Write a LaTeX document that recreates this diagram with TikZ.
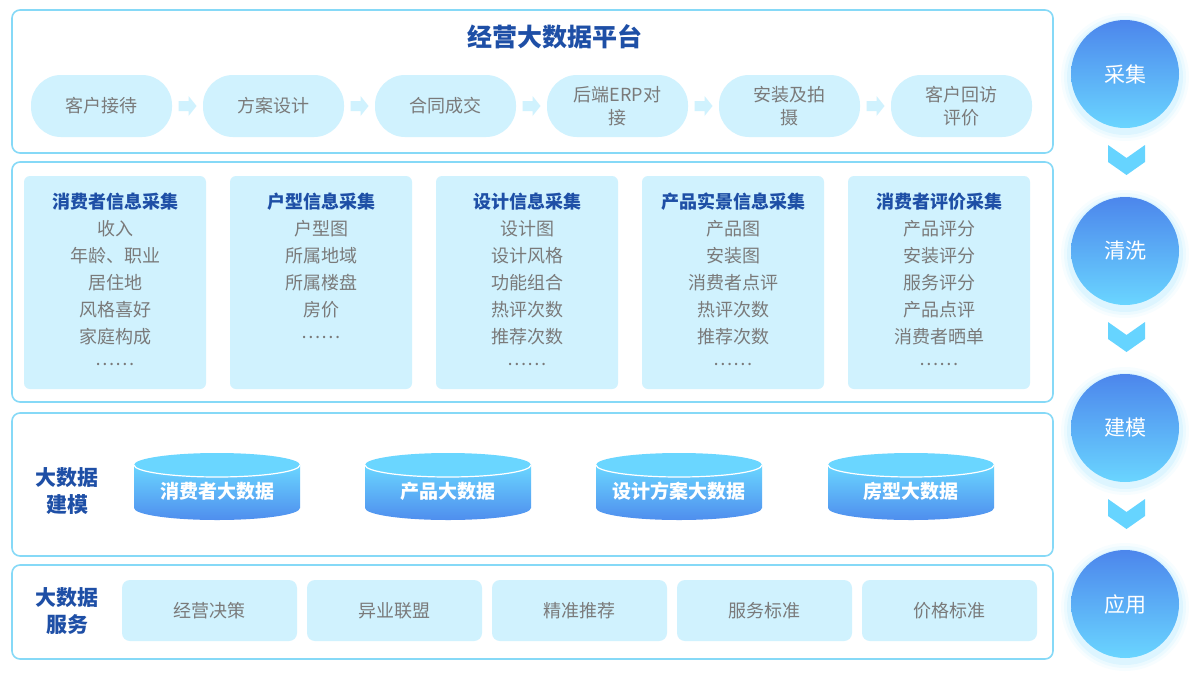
\documentclass[tikz,border=0pt]{standalone}
\usepackage{fontspec}
\setmainfont{Noto Sans CJK SC}
\definecolor{pborder}{HTML}{86D9F7}
\definecolor{pfill}{HTML}{D0F2FE}
\definecolor{tblue}{HTML}{1E4FA6}
\definecolor{tgray}{HTML}{7A7A7A}
\definecolor{ctop}{HTML}{4C86EC}
\definecolor{cbot}{HTML}{6AD5FF}
\definecolor{cyl}{HTML}{6AD6FF}
\definecolor{chev}{HTML}{66D4FF}
\tikzset{
  panel/.style={draw=pborder, line width=1.6pt, rounded corners=8pt, fill=white},
  pill/.style={fill=pfill, rounded corners=30pt, minimum width=141pt, minimum height=62pt, inner sep=0pt, align=center, text=tgray, font=\fontsize{18}{23}\selectfont},
  infobox/.style={fill=pfill, rounded corners=6pt, minimum width=182pt, minimum height=213pt, inner sep=0pt},
  svcbox/.style={fill=pfill, rounded corners=8pt, minimum width=175pt, minimum height=61pt, inner sep=0pt, text=tgray, font=\fontsize{18}{22}\selectfont},
  ititle/.style={text=tblue, font=\fontsize{18}{22}\selectfont\bfseries, inner sep=0pt},
  item/.style={text=tgray, font=\fontsize{18}{22}\selectfont, inner sep=0pt},
  sidelabel/.style={text=tblue, font=\fontsize{21}{27}\selectfont\bfseries, align=center, inner sep=0pt},
  stage/.style={circle, minimum size=108pt, inner sep=0pt, top color=ctop, bottom color=cbot, text=white, font=\fontsize{21}{24}\selectfont},
  flowarrow/.style={fill=pfill},
  chevron/.style={fill=chev},
  cyltext/.style={text=white, font=\fontsize{19}{22}\selectfont\bfseries, inner sep=0pt}
}
\begin{document}
\begin{tikzpicture}[x=1pt,y=-1pt]
\useasboundingbox (0,0) rectangle (1201,675);
% panels
\draw[panel] (12,10) rectangle (1053,153);
\draw[panel] (12,162) rectangle (1053,402);
\draw[panel] (12,413) rectangle (1053,556);
\draw[panel] (12,565) rectangle (1053,659);
% title
\node[text=tblue, font=\fontsize{25}{28}\selectfont\bfseries, inner sep=0pt] (title) at (555,37) {经营大数据平台};
% pills
\node[pill] (p1) at (101.5,106) {客户接待};
\node[pill] (p2) at (273.5,106) {方案设计};
\node[pill] (p3) at (445.5,106) {合同成交};
\node[pill] (p4) at (617.5,106) {后端ERP对\\接};
\node[pill] (p5) at (789.5,106) {安装及拍\\摄};
\node[pill] (p6) at (961.5,106) {客户回访\\评价};
\foreach \a/\b in {p1/p2,p2/p3,p3/p4,p4/p5,p5/p6}{
  \path (\a.east) -- (\b.west) coordinate[midway] (m\a);
  \fill[flowarrow] ([shift={(-9,-5)}]m\a) -- ([shift={(1,-5)}]m\a) -- ([shift={(1,-10)}]m\a) -- ([shift={(9,0)}]m\a) -- ([shift={(1,10)}]m\a) -- ([shift={(1,5)}]m\a) -- ([shift={(-9,5)}]m\a) -- cycle;
}
% info boxes
\foreach \cx/\n/\ttl/\lst in {
  115/a/消费者信息采集/{收入,年龄、职业,居住地,风格喜好,家庭构成,……},
  321/b/户型信息采集/{户型图,所属地域,所属楼盘,房价,……},
  527/c/设计信息采集/{设计图,设计风格,功能组合,热评次数,推荐次数,……},
  733/d/产品实景信息采集/{产品图,安装图,消费者点评,热评次数,推荐次数,……},
  939/e/消费者评价采集/{产品评分,安装评分,服务评分,产品点评,消费者晒单,……}}{
  \node[infobox] (box\n) at (\cx,282.5) {};
  \node[ititle] (t\n) at (\cx,202) {\ttl};
  \foreach \t [count=\i] in \lst {
    \node[item] (l\n\i) at (\cx,202+27*\i) {\t};
  }
}
% modeling
\node[sidelabel] (lab1) at (67,491) {大数据\\建模};
\foreach \cx/\n/\txt in {217/cy1/消费者大数据, 448/cy2/产品大数据, 679/cy3/设计方案大数据, 911/cy4/房型大数据}{
  \shade[top color=cyl, bottom color=ctop!90!cbot] (\cx-83,465) -- (\cx-83,508) arc[start angle=180,end angle=0,x radius=83,y radius=12] -- (\cx+83,465) -- cycle;
  \fill[cyl] (\cx,465) ellipse [x radius=83, y radius=12];
  \draw[white, line width=1.2pt] (\cx-83,465) arc[start angle=180,end angle=0,x radius=83,y radius=12];
  \node[cyltext] (\n) at (\cx,491) {\txt};
}
% services
\node[sidelabel] (lab2) at (67,611) {大数据\\服务};
\node[svcbox] (s1) at (209.5,610.5) {经营决策};
\node[svcbox] (s2) at (394.5,610.5) {异业联盟};
\node[svcbox] (s3) at (579.5,610.5) {精准推荐};
\node[svcbox] (s4) at (764.5,610.5) {服务标准};
\node[svcbox] (s5) at (949.5,610.5) {价格标准};
% stages
\foreach \cy/\n/\txt in {74/st1/采集, 251/st2/清洗, 428/st3/建模, 604/st4/应用}{
  \foreach \r/\o in {64/0.05,61/0.08,58/0.12}{
    \fill[cbot, opacity=\o] (1125,\cy+3) circle (\r);
  }
  \node[stage] (\n) at (1125,\cy) {\txt};
}
\foreach \cy in {145,322,499}{
  \fill[chevron] (1108,\cy) -- (1126.5,\cy+13) -- (1145,\cy) -- (1145,\cy+17) -- (1126.5,\cy+30) -- (1108,\cy+17) -- cycle;
}
\end{tikzpicture}
\end{document}
